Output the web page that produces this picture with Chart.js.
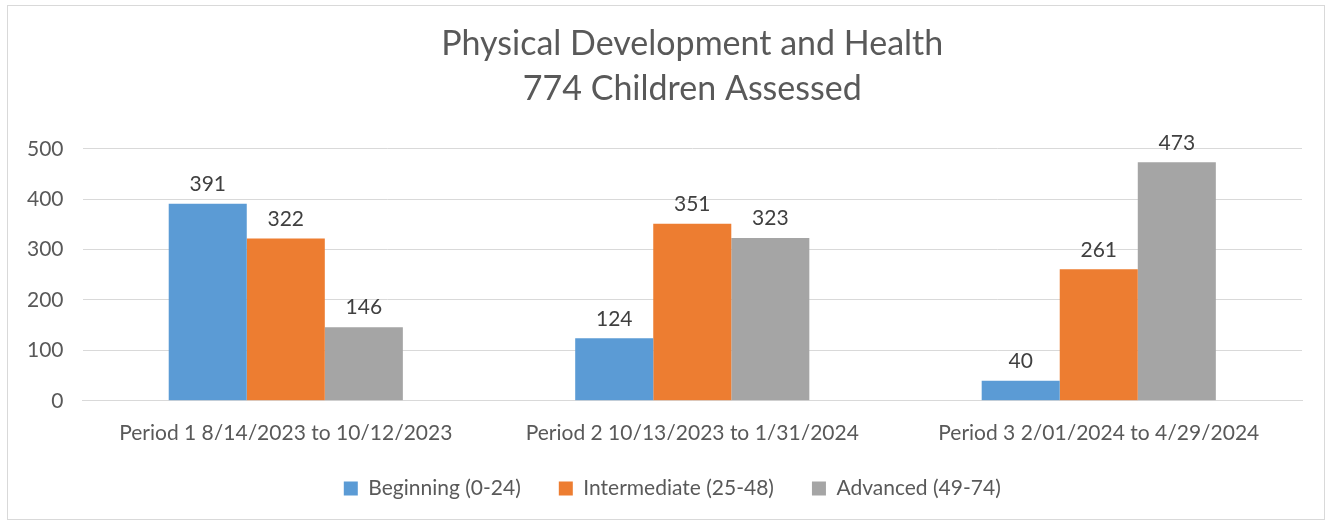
<!DOCTYPE html>
<html>
<head>
<meta charset="utf-8">
<script src="https://cdn.jsdelivr.net/npm/chart.js@4"></script>
<style>
  body { margin: 0; background: #fff; }
  #wrap { position: absolute; left: 7px; top: 5px; width: 1316px; height: 513px; border: 1px solid #d9d9d9; }
</style>
</head>
<body>
<div id="wrap"><canvas id="chart" width="1316" height="513"></canvas></div>
<script>
var categories = ['Period 1 8/14/2023 to 10/12/2023', 'Period 2 10/13/2023 to 1/31/2024', 'Period 3 2/01/2024 to 4/29/2024'];
var beginning = [391, 124, 40];
var intermediate = [322, 351, 261];
var advanced = [146, 323, 473];
var yTicks = [0, 100, 200, 300, 400, 500];

var fontFamily = 'Lato, "Open Sans", sans-serif';
var textColor = '#595959';

// simple value labels above each bar
var barLabels = {
  id: 'barLabels',
  afterDatasetsDraw: function(chart) {
    var ctx = chart.ctx;
    ctx.save();
    ctx.font = '21px ' + fontFamily;
    ctx.fillStyle = '#404040';
    ctx.textAlign = 'center';
    ctx.textBaseline = 'bottom';
    chart.data.datasets.forEach(function(ds, i) {
      chart.getDatasetMeta(i).data.forEach(function(bar, j) {
        ctx.fillText(ds.data[j], bar.x, bar.y - 9);
      });
    });
    ctx.restore();
  }
};

// nudge legend a bit left, Excel centres it slightly off the plot area
var legendShift = {
  id: 'legendShift',
  afterLayout: function(chart) {
    chart.legend.left -= 20;
    chart.legend.right -= 20;
  }
};

var ctx = document.getElementById('chart').getContext('2d');
var chart = new Chart(ctx, {
  type: 'bar',
  data: {
    labels: categories,
    datasets: [
      { label: 'Beginning (0-24)', data: beginning, backgroundColor: '#5b9bd5' },
      { label: 'Intermediate (25-48)', data: intermediate, backgroundColor: '#ed7d31' },
      { label: 'Advanced (49-74)', data: advanced, backgroundColor: '#a5a5a5' }
    ]
  },
  plugins: [barLabels, legendShift],
  options: {
    responsive: false,
    animation: false,
    layout: { padding: { left: 0, right: 22, bottom: 10 } },
    datasets: { bar: { categoryPercentage: 0.576, barPercentage: 1 } },
    plugins: {
      title: {
        display: true,
        fullSize: false,
        text: ['Physical Development and Health', '774 Children Assessed'],
        color: textColor,
        font: { family: fontFamily, size: 34, weight: 'normal', lineHeight: 1.32 },
        padding: { top: 16, bottom: 37 }
      },
      legend: {
        position: 'bottom',
        fullSize: false,
        labels: {
          color: textColor,
          font: { family: fontFamily, size: 21 },
          boxWidth: 14,
          boxHeight: 14,
          padding: 38
        }
      },
      tooltip: { enabled: false }
    },
    scales: {
      x: {
        grid: { display: false },
        border: { color: '#d9d9d9' },
        ticks: { color: textColor, font: { family: fontFamily, size: 21 }, padding: 12 },
        afterFit: function(scale) { scale.height -= 18; }
      },
      y: {
        min: 0,
        max: 500,
        afterBuildTicks: function(axis) { axis.ticks = yTicks.map(function(v) { return { value: v }; }); },
        grid: { color: '#d9d9d9', drawTicks: false },
        border: { display: false },
        ticks: { color: textColor, font: { family: fontFamily, size: 21 }, padding: 19 }
      }
    }
  }
});
</script>
</body>
</html>
